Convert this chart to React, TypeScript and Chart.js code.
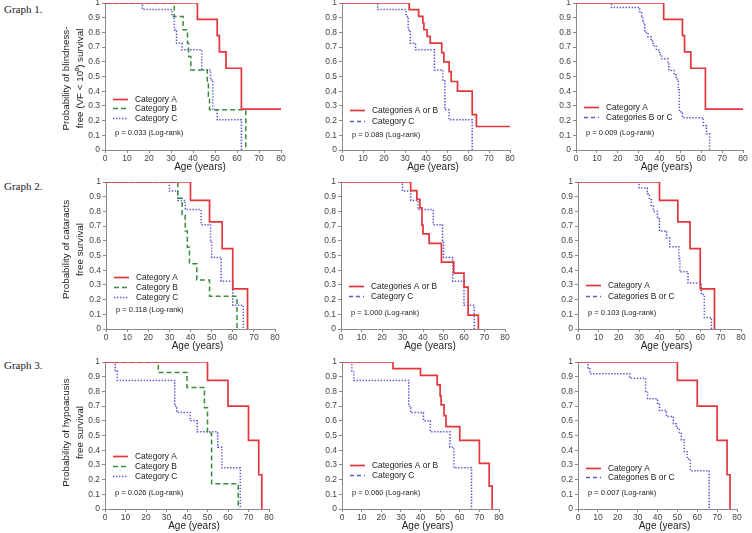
import React, { useEffect, useRef } from 'react';
import { Chart, registerables } from 'chart.js';

Chart.register(...registerables);

const FONT = '"Liberation Sans", Arial, Helvetica, sans-serif';
const SERIF = '"Liberation Serif", "Times New Roman", serif';

const xTickLabels = ['0', '10', '20', '30', '40', '50', '60', '70', '80'];
const yTickLabels = ['0', '0.1', '0.2', '0.3', '0.4', '0.5', '0.6', '0.7', '0.8', '0.9', '1'];

const rowLabels = ['Graph 1.', 'Graph 2.', 'Graph 3.'];
const yTitles = [
  ['Probability of blindness-', 'free (VF < 10\u2070) survival'],
  ['Probability of cataracts', 'free survival'],
  ['Probability of hypoacusis', 'free survival'],
];
const xTitle = 'Age (years)';

const legend3 = ['Category A', 'Category B', 'Category C'];
const legendABvsC = ['Categories A or B', 'Category C'];
const legendAvsBC = ['Category A', 'Categories B or C'];

const pValues = [
  ['p = 0.033 (Log-rank)', 'p = 0.089 (Log-rank)', 'p = 0.009 (Log-rank)'],
  ['p = 0.118 (Log-rank)', 'p = 1.000 (Log-rank)', 'p = 0.103 (Log-rank)'],
  ['p = 0.026 (Log-rank)', 'p = 0.060 (Log-rank)', 'p = 0.007 (Log-rank)'],
];

// ---- Graph 1 (blindness) ----
const g1A_t = [0, 42, 51, 52, 55, 62, 80];
const g1A_s = [1, 0.889, 0.778, 0.667, 0.556, 0.278, 0.278];
const g1B_t = [0, 31.5, 35.5, 37.5, 38, 39, 46.5, 47, 47.5, 64];
const g1B_s = [1, 0.909, 0.818, 0.727, 0.636, 0.545, 0.455, 0.364, 0.273, 0];
const g1C_t = [0, 17, 30.5, 31.5, 32.5, 35, 44, 48, 49, 51, 62];
const g1C_s = [1, 0.955, 0.909, 0.818, 0.727, 0.682, 0.545, 0.477, 0.273, 0.205, 0];
const g1AB_t = [0, 32, 36.5, 38.5, 39, 40.5, 42, 47.5, 48.5, 51, 52, 55, 62, 64, 80];
const g1AB_s = [1, 0.955, 0.909, 0.864, 0.818, 0.773, 0.727, 0.663, 0.6, 0.533, 0.466, 0.4, 0.24, 0.16, 0.16];
const g1BC_t = [0, 17, 30.5, 31.5, 32, 32.5, 33, 34.5, 36, 37, 38.5, 40, 41, 44, 44.5, 47, 48, 49, 49.5, 51, 61, 62.5, 64];
const g1BC_s = [1, 0.97, 0.94, 0.91, 0.88, 0.85, 0.8, 0.77, 0.74, 0.71, 0.68, 0.65, 0.62, 0.585, 0.54, 0.51, 0.48, 0.41, 0.26, 0.22, 0.165, 0.11, 0];

// ---- Graph 2 (cataracts) ----
const g2A_t = [0, 40, 49, 55, 60, 67];
const g2A_s = [1, 0.875, 0.729, 0.547, 0.273, 0];
const g2B_t = [0, 34, 36, 37.5, 38.5, 39.5, 43, 49, 62];
const g2B_s = [1, 0.889, 0.778, 0.667, 0.556, 0.444, 0.333, 0.222, 0];
const g2C_t = [0, 30, 34, 37.5, 45, 49.5, 50, 54.5, 60, 65];
const g2C_s = [1, 0.938, 0.875, 0.8125, 0.71, 0.6, 0.487, 0.325, 0.162, 0];
const g2AB_t = [0, 34, 37, 38.5, 39.5, 40, 43, 49, 55, 60, 62, 67];
const g2AB_s = [1, 0.941, 0.882, 0.824, 0.706, 0.647, 0.582, 0.455, 0.38, 0.285, 0.095, 0];
const g2BC_t = [0, 30, 34, 35, 36, 37, 39, 40, 43.5, 45, 49.5, 50, 54, 60.5, 62, 65.5];
const g2BC_s = [1, 0.96, 0.92, 0.88, 0.84, 0.8, 0.75, 0.667, 0.62, 0.56, 0.48, 0.39, 0.313, 0.235, 0.078, 0];

// ---- Graph 3 (hypoacusis) ----
const g3A_t = [0, 50, 60, 70, 75, 76.5];
const g3A_s = [1, 0.875, 0.7, 0.467, 0.233, 0];
const g3B_t = [0, 26, 40, 48.5, 50, 52, 65];
const g3B_s = [1, 0.929, 0.826, 0.688, 0.516, 0.172, 0];
const g3C_t = [0, 5, 6, 34, 35, 41.5, 45, 55, 57, 66];
const g3C_s = [1, 0.938, 0.875, 0.7, 0.656, 0.6, 0.525, 0.42, 0.28, 0];
const g3AB_t = [0, 26, 40, 48.5, 50, 50.5, 52, 53, 60, 70, 75, 76.5];
const g3AB_s = [1, 0.955, 0.909, 0.845, 0.77, 0.708, 0.635, 0.56, 0.467, 0.311, 0.156, 0];
const g3BC_t = [0, 5, 6, 26, 34, 35, 40, 41, 44.5, 48, 49.5, 51, 52, 53.5, 55, 56.5, 66];
const g3BC_s = [1, 0.96, 0.92, 0.89, 0.8, 0.75, 0.72, 0.67, 0.63, 0.58, 0.55, 0.52, 0.47, 0.39, 0.34, 0.26, 0];

type Kind = 'red' | 'green' | 'blue' | 'blueDash';
const STYLES: Record<Kind, { color: string; dash: number[]; width: number }> = {
  red: { color: '#e3363b', dash: [], width: 1.7 },
  green: { color: '#3a8c3a', dash: [5, 3], width: 1.5 },
  blue: { color: '#5858d4', dash: [1.4, 1.6], width: 1.5 },
  blueDash: { color: '#5858d4', dash: [4, 3], width: 1.5 },
};

type Series = { t: number[]; s: number[]; kind: Kind };
type PanelDef = {
  row: number;
  col: number;
  ax: number;
  ay: number;
  aw: number;
  ah: number;
  series: Series[];
  legend: string[];
  legendKinds: Kind[];
  legendY: number[];
  pY: number;
  yTitle?: string[];
  yTitleX?: number[];
  yTitleDY?: number;
};

const PANELS: PanelDef[] = [
  {
    row: 0, col: 0, ax: 105, ay: 3, aw: 176, ah: 147,
    series: [{ t: g1A_t, s: g1A_s, kind: 'red' }, { t: g1B_t, s: g1B_s, kind: 'green' }, { t: g1C_t, s: g1C_s, kind: 'blue' }],
    legend: legend3, legendKinds: ['red', 'green', 'blue'], legendY: [0.35, 0.283, 0.216], pY: 0.114,
    yTitle: yTitles[0], yTitleX: [-39, -25], yTitleDY: 2,
  },
  {
    row: 0, col: 1, ax: 342, ay: 3, aw: 168, ah: 147,
    series: [{ t: g1AB_t, s: g1AB_s, kind: 'red' }, { t: g1C_t, s: g1C_s, kind: 'blue' }],
    legend: legendABvsC, legendKinds: ['red', 'blueDash'], legendY: [0.27, 0.2], pY: 0.105,
  },
  {
    row: 0, col: 2, ax: 576, ay: 3, aw: 167, ah: 147,
    series: [{ t: g1A_t, s: g1A_s, kind: 'red' }, { t: g1BC_t, s: g1BC_s, kind: 'blue' }],
    legend: legendAvsBC, legendKinds: ['red', 'blueDash'], legendY: [0.29, 0.225], pY: 0.114,
  },
  {
    row: 1, col: 0, ax: 106, ay: 182, aw: 169, ah: 147,
    series: [{ t: g2A_t, s: g2A_s, kind: 'red' }, { t: g2B_t, s: g2B_s, kind: 'green' }, { t: g2C_t, s: g2C_s, kind: 'blue' }],
    legend: legend3, legendKinds: ['red', 'green', 'blue'], legendY: [0.352, 0.284, 0.218], pY: 0.13,
    yTitle: yTitles[1], yTitleX: [-40, -26], yTitleDY: -6,
  },
  {
    row: 1, col: 1, ax: 341, ay: 182, aw: 164, ah: 147,
    series: [{ t: g2AB_t, s: g2AB_s, kind: 'red' }, { t: g2C_t, s: g2C_s, kind: 'blue' }],
    legend: legendABvsC, legendKinds: ['red', 'blueDash'], legendY: [0.295, 0.224], pY: 0.11,
  },
  {
    row: 1, col: 2, ax: 578, ay: 182, aw: 163, ah: 147,
    series: [{ t: g2A_t, s: g2A_s, kind: 'red' }, { t: g2BC_t, s: g2BC_s, kind: 'blue' }],
    legend: legendAvsBC, legendKinds: ['red', 'blueDash'], legendY: [0.297, 0.226], pY: 0.11,
  },
  {
    row: 2, col: 0, ax: 105, ay: 362, aw: 164, ah: 147,
    series: [{ t: g3A_t, s: g3A_s, kind: 'red' }, { t: g3B_t, s: g3B_s, kind: 'green' }, { t: g3C_t, s: g3C_s, kind: 'blue' }],
    legend: legend3, legendKinds: ['red', 'green', 'blue'], legendY: [0.36, 0.29, 0.222], pY: 0.11,
    yTitle: yTitles[2], yTitleX: [-39, -25], yTitleDY: -3,
  },
  {
    row: 2, col: 1, ax: 342, ay: 362, aw: 157, ah: 147,
    series: [{ t: g3AB_t, s: g3AB_s, kind: 'red' }, { t: g3C_t, s: g3C_s, kind: 'blue' }],
    legend: legendABvsC, legendKinds: ['red', 'blueDash'], legendY: [0.297, 0.228], pY: 0.107,
  },
  {
    row: 2, col: 2, ax: 578, ay: 362, aw: 159, ah: 147,
    series: [{ t: g3A_t, s: g3A_s, kind: 'red' }, { t: g3BC_t, s: g3BC_s, kind: 'blue' }],
    legend: legendAvsBC, legendKinds: ['red', 'blueDash'], legendY: [0.28, 0.215], pY: 0.107,
  },
];

const PAD_T = 8;
const PAD_R = 10;
const PAD_B = 28;

function Panel({ def }: { def: PanelDef }) {
  const ref = useRef<HTMLCanvasElement | null>(null);
  const padL = def.col === 0 ? def.ax - 56 : 30;
  const cw = padL + def.aw + PAD_R;
  const ch = PAD_T + def.ah + PAD_B;

  useEffect(() => {
    if (!ref.current) return;
    const overlay = {
      id: 'overlay',
      afterDraw(chart: any) {
        const { ctx, chartArea: a, scales } = chart;
        const ys = scales.y;
        ctx.save();
        // legend
        ctx.textBaseline = 'middle';
        ctx.textAlign = 'left';
        def.legend.forEach((label, i) => {
          const st = STYLES[def.legendKinds[i]];
          const y = Math.round(ys.getPixelForValue(def.legendY[i])) + 0.5;
          ctx.beginPath();
          ctx.setLineDash(st.dash);
          ctx.strokeStyle = st.color;
          ctx.lineWidth = st.width;
          ctx.moveTo(a.left + 8, y);
          ctx.lineTo(a.left + 23, y);
          ctx.stroke();
          ctx.setLineDash([]);
          ctx.fillStyle = '#222';
          ctx.font = `8.4px ${FONT}`;
          ctx.fillText(label, a.left + 30, y);
        });
        // p value
        ctx.font = `7.5px ${FONT}`;
        ctx.fillStyle = '#222';
        ctx.fillText(pValues[def.row][def.col], a.left + 10, ys.getPixelForValue(def.pY));
        // x title
        ctx.font = `10px ${FONT}`;
        ctx.textAlign = 'center';
        ctx.fillStyle = '#222';
        ctx.fillText(xTitle, (a.left + a.right) / 2 + 7, a.bottom + 17.5);
        // y title
        if (def.yTitle && def.yTitleX) {
          ctx.font = `9.8px ${FONT}`;
          const cy = (a.top + a.bottom) / 2 + (def.yTitleDY || 0);
          def.yTitle.forEach((line, i) => {
            ctx.save();
            ctx.translate(a.left + def.yTitleX![i], cy);
            ctx.rotate(-Math.PI / 2);
            ctx.fillText(line, 0, 0);
            ctx.restore();
          });
        }
        ctx.restore();
      },
    };

    const chart = new Chart(ref.current, {
      type: 'line',
      data: {
        datasets: def.series.map((sr) => {
          const st = STYLES[sr.kind];
          return {
            data: sr.t.map((x, i) => ({ x, y: sr.s[i] })),
            stepped: true,
            borderColor: st.color,
            borderWidth: st.width,
            borderDash: st.dash,
            pointRadius: 0,
            fill: false,
            tension: 0,
          };
        }),
      },
      options: {
        animation: false,
        responsive: false,
        events: [],
        layout: { padding: { left: 0, top: PAD_T, right: PAD_R, bottom: 0 } },
        plugins: { legend: { display: false }, tooltip: { enabled: false }, title: { display: false } },
        scales: {
          x: {
            type: 'linear',
            min: 0,
            max: 80,
            afterFit: (s: any) => { s.height = PAD_B; },
            grid: { drawOnChartArea: false, drawTicks: true, tickLength: 3, color: '#8a8a8a' },
            border: { display: true, color: '#8a8a8a', width: 1 },
            ticks: {
              stepSize: 10,
              autoSkip: false,
              maxRotation: 0,
              padding: 1,
              color: '#444',
              font: { size: 8.5, family: FONT },
              callback: (v: any) => xTickLabels[Math.round(Number(v) / 10)],
            },
          },
          y: {
            type: 'linear',
            min: 0,
            max: 1,
            afterFit: (s: any) => { s.width = padL; },
            grid: { drawOnChartArea: false, drawTicks: true, tickLength: 3, color: '#8a8a8a' },
            border: { display: true, color: '#8a8a8a', width: 1 },
            ticks: {
              stepSize: 0.1,
              autoSkip: false,
              padding: 2,
              color: '#444',
              font: { size: 8.5, family: FONT },
              callback: (v: any) => yTickLabels[Math.round(Number(v) * 10)],
            },
          },
        },
      } as any,
      plugins: [overlay],
    });
    return () => chart.destroy();
  }, []);

  return (
    <canvas
      ref={ref}
      width={cw}
      height={ch}
      style={{ position: 'absolute', left: def.ax - padL, top: def.ay - PAD_T, width: cw, height: ch }}
    />
  );
}

const rowLabelTops = [3, 180, 359];

export default function App() {
  return (
    <div style={{ position: 'absolute', left: 0, top: 0, width: 752, height: 533, overflow: 'hidden', background: '#fff' }}>
      {rowLabels.map((t, i) => (
        <div
          key={t}
          style={{ position: 'absolute', left: 4, top: rowLabelTops[i], fontFamily: SERIF, fontSize: 11, lineHeight: '12px', color: '#222' }}
        >
          {t}
        </div>
      ))}
      {PANELS.map((p, i) => (
        <Panel key={i} def={p} />
      ))}
    </div>
  );
}
